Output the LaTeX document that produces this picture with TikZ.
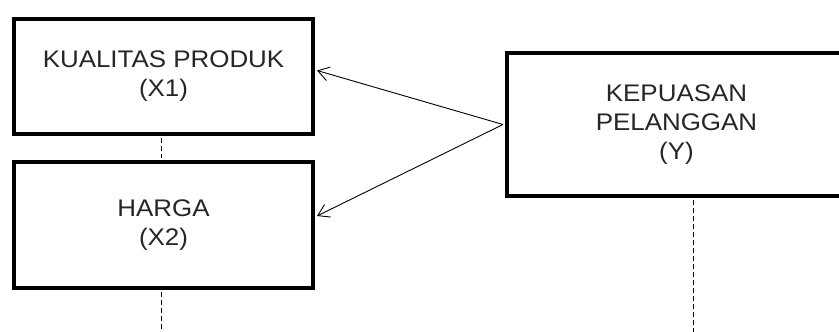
\documentclass[tikz,border=0pt]{standalone}
\usepackage{fontspec}
\setmainfont[FakeStretch=1.08]{Liberation Sans}
\usetikzlibrary{arrows.meta,calc}
\begin{document}
\begin{tikzpicture}[x=1pt,y=1pt,
  varbox/.style={draw=black,line width=4pt,fill=white,align=center,
    text=black!85,font=\fontsize{24}{29}\selectfont,inner sep=0pt},
  link/.style={line width=0.9pt,-{Straight Barb[length=11pt,width=14pt,line width=0.9pt]}},
  guide/.style={line width=0.8pt,dash pattern=on 5pt off 3pt}]
\useasboundingbox (0,0) rectangle (839,332);
\clip (0,0) rectangle (839,332);
\fill[white] (0,0) rectangle (839,332);
\node[varbox,minimum width=299pt,minimum height=115pt] (x1) at (163.5,255.5)
  {KUALITAS PRODUK\\(X1)};
\node[varbox,minimum width=299pt,minimum height=126pt] (x2) at (163.5,107)
  {HARGA\\(X2)};
\node[varbox,minimum width=339pt,minimum height=143pt] (y) at (676.5,207.5)
  {KEPUASAN\\PELANGGAN\\(Y)};
\coordinate (x1in) at ($(x1.east)+(2,6)$);
\coordinate (x2in) at ($(x2.east)+(2,9)$);
\coordinate (yout) at ($(y.west)+(-2,0)$);
\draw[link] (yout) -- (x1in);
\draw[link] (yout) -- (x2in);
\coordinate (x1b) at ($(x1.south)+(-2.5,-2)$);
\coordinate (x2t) at ($(x2.north)+(-2.5,2)$);
\coordinate (x2b) at ($(x2.south)+(-2.5,-2)$);
\coordinate (x2end) at ($(x2b)+(0,-60)$);
\coordinate (yb) at ($(y.south)+(16.5,-2)$);
\coordinate (yend) at ($(yb)+(0,-150)$);
\draw[guide] (x1b) -- (x2t);
\draw[guide] (x2b) -- (x2end);
\draw[guide] (yb) -- (yend);
\end{tikzpicture}
\end{document}
